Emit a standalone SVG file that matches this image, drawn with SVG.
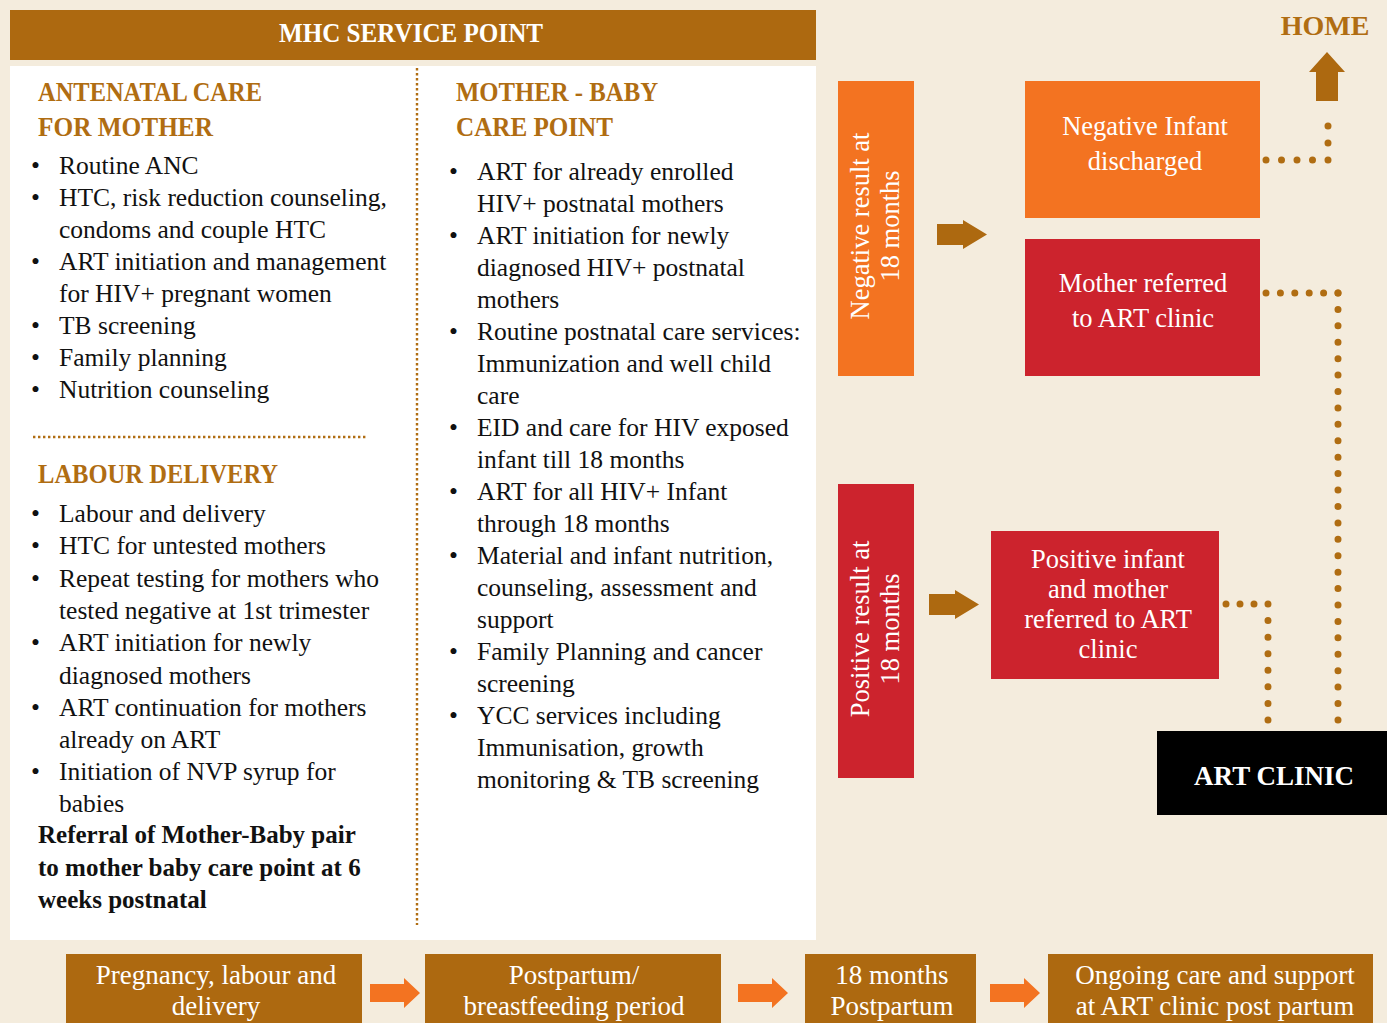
<svg xmlns="http://www.w3.org/2000/svg" width="1387" height="1023" viewBox="0 0 1387 1023">
<style>
text{font-family:"Liberation Serif","DejaVu Serif",serif}
.hd{font-size:26.5px;font-weight:bold;fill:#B06D12}
.bd{font-size:25.5px;fill:#111}
.bb{font-size:25px;font-weight:bold;fill:#111}
.wt{font-size:26.5px;fill:#fff;text-anchor:middle}
.bt{font-size:27px;fill:#fff;text-anchor:middle}
.dot{fill:none;stroke:#B06D12;stroke-width:7;stroke-linecap:round}
.sd{fill:none;stroke:#B06D12;stroke-width:2.4;stroke-dasharray:2.4 2.6}
.brown{fill:#AD6910}
.org{fill:#F37321}
.red{fill:#CC232D}
</style>
<rect width="1387" height="1023" fill="#F4ECDD"/>

<g id="header">
<rect x="10" y="10" width="806" height="50" class="brown"/>
<text x="279" y="42" font-size="26.5" font-weight="bold" fill="#fff" textLength="264" lengthAdjust="spacingAndGlyphs">MHC SERVICE POINT</text>
</g>

<g id="panel">
<rect x="10" y="66" width="806" height="874" fill="#fff"/>
<line x1="417" y1="68" x2="417" y2="925" class="sd"/>
<line x1="33" y1="437" x2="367" y2="437" class="sd"/>
</g>

<g id="antenatal">
<text class="hd" x="38" y="101" textLength="224" lengthAdjust="spacingAndGlyphs">ANTENATAL CARE</text>
<text class="hd" x="38" y="136" textLength="175" lengthAdjust="spacingAndGlyphs">FOR MOTHER</text>
<g class="bd">
<text x="31" y="174">•</text><text x="59" y="174">Routine ANC</text>
<text x="31" y="206">•</text><text x="59" y="206">HTC, risk reduction counseling,</text>
<text x="59" y="238">condoms and couple HTC</text>
<text x="31" y="270">•</text><text x="59" y="270">ART initiation and management</text>
<text x="59" y="302">for HIV+ pregnant women</text>
<text x="31" y="334">•</text><text x="59" y="334">TB screening</text>
<text x="31" y="366">•</text><text x="59" y="366">Family planning</text>
<text x="31" y="398">•</text><text x="59" y="398">Nutrition counseling</text>
</g>
</g>

<g id="labour">
<text class="hd" x="38" y="483" textLength="240" lengthAdjust="spacingAndGlyphs">LABOUR DELIVERY</text>
<g class="bd">
<text x="31" y="522">•</text><text x="59" y="522">Labour and delivery</text>
<text x="31" y="554">•</text><text x="59" y="554">HTC for untested mothers</text>
<text x="31" y="587">•</text><text x="59" y="587">Repeat testing for mothers who</text>
<text x="59" y="619">tested negative at 1st trimester</text>
<text x="31" y="651">•</text><text x="59" y="651">ART initiation for newly</text>
<text x="59" y="684">diagnosed mothers</text>
<text x="31" y="716">•</text><text x="59" y="716">ART continuation for mothers</text>
<text x="59" y="748">already on ART</text>
<text x="31" y="780">•</text><text x="59" y="780">Initiation of NVP syrup for</text>
<text x="59" y="812">babies</text>
</g>
<g class="bb">
<text x="38" y="843">Referral of Mother-Baby pair</text>
<text x="38" y="876">to mother baby care point at 6</text>
<text x="38" y="908">weeks postnatal</text>
</g>
</g>

<g id="motherbaby">
<text class="hd" x="456" y="101" textLength="202" lengthAdjust="spacingAndGlyphs">MOTHER - BABY</text>
<text class="hd" x="456" y="136" textLength="157" lengthAdjust="spacingAndGlyphs">CARE POINT</text>
<g class="bd">
<text x="449" y="180">•</text><text x="477" y="180">ART for already enrolled</text>
<text x="477" y="212">HIV+ postnatal mothers</text>
<text x="449" y="244">•</text><text x="477" y="244">ART initiation for newly</text>
<text x="477" y="276">diagnosed HIV+ postnatal</text>
<text x="477" y="308">mothers</text>
<text x="449" y="340">•</text><text x="477" y="340">Routine postnatal care services:</text>
<text x="477" y="372">Immunization and well child</text>
<text x="477" y="404">care</text>
<text x="449" y="436">•</text><text x="477" y="436">EID and care for HIV exposed</text>
<text x="477" y="468">infant till 18 months</text>
<text x="449" y="500">•</text><text x="477" y="500">ART for all HIV+ Infant</text>
<text x="477" y="532">through 18 months</text>
<text x="449" y="564">•</text><text x="477" y="564">Material and infant nutrition,</text>
<text x="477" y="596">counseling, assessment and</text>
<text x="477" y="628">support</text>
<text x="449" y="660">•</text><text x="477" y="660">Family Planning and cancer</text>
<text x="477" y="692">screening</text>
<text x="449" y="724">•</text><text x="477" y="724">YCC services including</text>
<text x="477" y="756">Immunisation, growth</text>
<text x="477" y="788">monitoring &amp; TB screening</text>
</g>
</g>

<g id="home">
<text x="1325" y="35" font-size="28" font-weight="bold" fill="#B06D12" text-anchor="middle">HOME</text>
</g>

<g id="negative-result">
<rect x="838" y="81" width="76" height="295" class="org"/>
<g transform="translate(875,226) rotate(-90)">
<text class="wt" x="0" y="-6" font-size="26">Negative result at</text>
<text class="wt" x="0" y="24" font-size="26">18 months</text>
</g>
</g>

<g id="negative-infant">
<rect x="1025" y="81" width="235" height="137" class="org"/>
<text class="wt" x="1145" y="135">Negative Infant</text>
<text class="wt" x="1145" y="170">discharged</text>
</g>

<g id="mother-referred">
<rect x="1025" y="239" width="235" height="137" class="red"/>
<text class="wt" x="1143" y="292">Mother referred</text>
<text class="wt" x="1143" y="327">to ART clinic</text>
</g>

<g id="positive-result">
<rect x="838" y="484" width="76" height="294" class="red"/>
<g transform="translate(875,629) rotate(-90)">
<text class="wt" x="0" y="-6" font-size="26">Positive result at</text>
<text class="wt" x="0" y="24" font-size="26">18 months</text>
</g>
</g>

<g id="positive-infant">
<rect x="991" y="531" width="228" height="148" class="red"/>
<text class="wt" x="1108" y="568">Positive infant</text>
<text class="wt" x="1108" y="598">and mother</text>
<text class="wt" x="1108" y="628">referred to ART</text>
<text class="wt" x="1108" y="658">clinic</text>
</g>

<g id="art-clinic">
<rect x="1157" y="731" width="230" height="84" fill="#000"/>
<text x="1274" y="785" font-size="27" font-weight="bold" fill="#fff" text-anchor="middle">ART CLINIC</text>
</g>

<g id="stage-1">
<rect x="66" y="954" width="296" height="80" class="brown"/>
<text class="bt" x="216" y="984">Pregnancy, labour and</text>
<text class="bt" x="216" y="1015">delivery</text>
</g>
<g id="stage-2">
<rect x="425" y="954" width="296" height="80" class="brown"/>
<text class="bt" x="574" y="984">Postpartum/</text>
<text class="bt" x="574" y="1015">breastfeeding period</text>
</g>
<g id="stage-3">
<rect x="805" y="954" width="171" height="80" class="brown"/>
<text class="bt" x="892" y="984">18 months</text>
<text class="bt" x="892" y="1015">Postpartum</text>
</g>
<g id="stage-4">
<rect x="1048" y="954" width="325" height="80" class="brown"/>
<text class="bt" x="1215" y="984">Ongoing care and support</text>
<text class="bt" x="1215" y="1015">at ART clinic post partum</text>
</g>

<g id="connectors">
<polygon class="brown" points="937,224 963,224 963,220 987,234.5 963,249 963,245 937,245"/>
<polygon class="brown" points="929,594 955,594 955,590 979,604.5 955,619 955,615 929,615"/>
<polygon class="brown" points="1316,101 1316,72 1309,72 1327,52 1345,72 1338,72 1338,101"/>
<polygon class="org" points="370,984 404,984 404,978 420,993 404,1008 404,1002 370,1002"/>
<polygon class="org" points="738,984 772,984 772,978 788,993 772,1008 772,1002 738,1002"/>
<polygon class="org" points="990,984 1024,984 1024,978 1040,993 1024,1008 1024,1002 990,1002"/>
<path class="dot" d="M1266,160 H1328" stroke-dasharray="0 15.5"/>
<path class="dot" d="M1328,160 V109" stroke-dasharray="0 17"/>
<path class="dot" d="M1266,293 H1338" stroke-dasharray="0 14.4"/>
<path class="dot" d="M1338,293 V720" stroke-dasharray="0 16.42"/>
<path class="dot" d="M1226,604 H1268" stroke-dasharray="0 14"/>
<path class="dot" d="M1268,604 V720" stroke-dasharray="0 16.57"/>
</g>
</svg>
